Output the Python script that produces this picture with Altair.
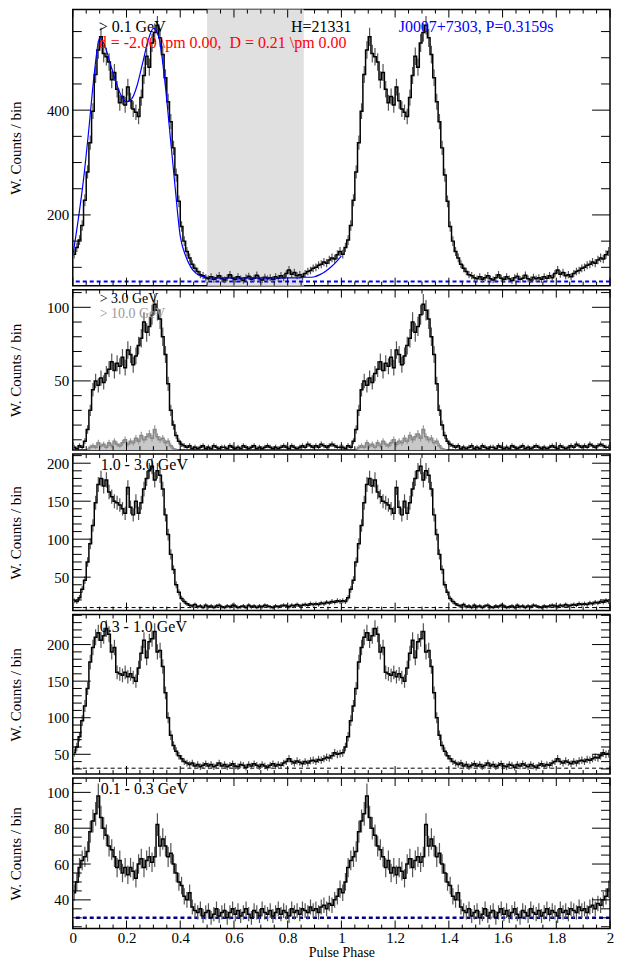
import altair as alt
import pandas as pd

FONT = "Liberation Serif"
N_BINS = 100
bin_centers = [(i + 0.5) / N_BINS for i in range(N_BINS)]

# > 0.1 GeV (one rotation, 100 bins)
counts_01 = [125, 138, 152, 180, 228, 282, 338, 398, 468, 515,
             540, 508, 502, 492, 458, 472, 440, 414, 426, 410,
             444, 418, 402, 396, 388, 424, 466, 503, 482, 528,
             548, 562, 538, 506, 462, 416, 378, 328, 276, 226,
             178, 150, 130, 118, 106, 98, 92, 86, 84, 80,
             78, 82, 77, 80, 84, 78, 76, 80, 86, 79,
             77, 82, 78, 75, 80, 83, 77, 79, 85, 78,
             76, 81, 78, 80, 77, 82, 79, 84, 80, 88,
             95, 87, 90, 84, 86, 82, 88, 92, 94, 98,
             100, 104, 106, 110, 108, 114, 118, 116, 124, 130]

# > 3.0 GeV
counts_3 = [5, 4, 6, 5, 9, 17, 30, 44, 50, 47,
            52, 49, 55, 58, 63, 57, 62, 60, 66, 59,
            71, 68, 61, 67, 74, 79, 90, 83, 87, 95,
            102, 98, 92, 80, 68, 48, 30, 20, 13, 9,
            7, 6, 5, 6, 4, 5, 4, 5, 6, 4,
            5, 4, 6, 5, 4, 5, 5, 4, 6, 5,
            4, 5, 4, 6, 5, 4, 5, 6, 4, 5,
            4, 5, 6, 5, 4, 5, 4, 5, 6, 5,
            4, 6, 5, 4, 5, 6, 5, 7, 6, 5,
            6, 5, 7, 6, 5, 6, 7, 6, 5, 5]

# > 10.0 GeV
counts_10 = [1, 0.5, 1, 1, 2, 3, 5, 6, 5, 8,
             6, 7, 5, 8, 6, 9, 7, 6, 8, 10,
             7, 9, 8, 11, 9, 13, 10, 12, 14, 11,
             17, 12, 10, 11, 8, 9, 6, 4, 3, 1,
             1, 0.5, 1, 1, 0.5, 1, 1, 0.5, 1, 1,
             0.5, 1, 1, 0.5, 1, 1, 0.5, 1, 1, 0.5,
             1, 1, 0.5, 1, 1, 0.5, 1, 1, 0.5, 1,
             1, 0.5, 1, 1, 0.5, 1, 1, 0.5, 1, 1,
             0.5, 1, 1, 0.5, 1, 1, 0.5, 1, 1, 0.5,
             1, 1, 0.5, 1, 1, 0.5, 1, 1, 0.5, 1]

# 1.0 - 3.0 GeV
counts_1_3 = [19, 18, 23, 34, 46, 70, 94, 118, 148, 172,
              180, 170, 178, 162, 156, 150, 148, 145, 140, 134,
              168, 142, 132, 150, 134, 148, 166, 180, 190, 196,
              178, 190, 184, 166, 132, 106, 80, 60, 40, 30,
              22, 18, 15, 13, 12, 14, 11, 12, 10, 13,
              11, 12, 10, 12, 13, 11, 10, 12, 11, 13,
              12, 10, 11, 12, 10, 13, 11, 12, 10, 12,
              11, 13, 12, 11, 10, 12, 11, 12, 13, 12,
              11, 13, 12, 14, 12, 13, 14, 13, 15, 14,
              15, 14, 16, 15, 17, 16, 18, 17, 19, 18]

# 0.3 - 1.0 GeV
counts_03_1 = [52, 60, 74, 96, 116, 140, 176, 196, 210, 216,
               206, 212, 222, 214, 190, 196, 162, 160, 158, 162,
               156, 160, 155, 150, 168, 188, 206, 182, 204, 208,
               218, 190, 192, 170, 134, 100, 76, 62, 54, 48,
               44, 40, 38, 36, 38, 34, 36, 33, 35, 37,
               34, 36, 33, 35, 38, 34, 36, 33, 35, 37,
               34, 33, 36, 35, 32, 36, 34, 37, 35, 33,
               36, 34, 32, 35, 37, 34, 36, 35, 38, 40,
               44, 40, 38, 41, 39, 37, 40, 38, 41, 42,
               40, 43, 42, 44, 46, 45, 48, 52, 50, 51]

# 0.1 - 0.3 GeV
counts_01_03 = [44, 50, 58, 62, 64, 67, 78, 84, 88, 98,
                86, 80, 76, 70, 68, 64, 58, 62, 55, 58,
                54, 58, 56, 52, 60, 63, 58, 62, 64, 61,
                64, 82, 70, 74, 70, 64, 66, 60, 55, 50,
                48, 42, 40, 44, 36, 34, 33, 35, 31, 33,
                34, 30, 32, 35, 31, 33, 34, 30, 33, 35,
                32, 34, 31, 33, 35, 32, 30, 34, 33, 31,
                35, 33, 32, 34, 31, 33, 35, 32, 34, 33,
                31, 35, 33, 34, 32, 35, 34, 33, 36, 34,
                35, 33, 36, 37, 35, 38, 37, 40, 42, 46]

# fitted template (> 0.1 GeV), first rotation only
fit_phase = [round(0.02 * i, 2) for i in range(51)]
fit_vals = [122, 190, 268, 365, 470, 538, 522, 488, 455, 428,
            416, 422, 448, 490, 532, 556, 540, 468, 365, 258,
            160, 122, 100, 88, 83, 81, 80, 80, 80, 80,
            80, 80, 80, 80, 80, 80, 80, 80, 80, 80,
            80, 80, 80, 81, 81, 82, 86, 92, 100, 110, 122]

off_pulse = [0.5, 0.86]

W = 539
xs = alt.Scale(domain=[0, 2], nice=False, zero=False)
x_major = [round(0.2 * i, 1) for i in range(11)]
x_minor = [round(0.05 * i, 2) for i in range(41) if i % 4 != 0]
NB = "\u00a0"


def two_cycles(vals):
    return pd.DataFrame({
        "phase": [c + k for k in (0, 1) for c in bin_centers],
        "v": [v for k in (0, 1) for v in vals],
    })


def ticks(h, ys, yax, xax, y_major, y_minor):
    out = []
    for vals, L in ((x_major, 8), (x_minor, 4)):
        d = pd.DataFrame({"t": vals})
        out.append(alt.Chart(d).mark_rule(color="black", strokeWidth=1).encode(
            x=alt.X("t:Q", scale=xs, axis=xax), y=alt.value(0), y2=alt.value(L)))
        out.append(alt.Chart(d).mark_rule(color="black", strokeWidth=1).encode(
            x=alt.X("t:Q", scale=xs, axis=xax), y=alt.value(h - L), y2=alt.value(h)))
    for vals, L in ((y_major, 18), (y_minor, 9)):
        d = pd.DataFrame({"t": vals})
        out.append(alt.Chart(d).mark_rule(color="black", strokeWidth=1).encode(
            y=alt.Y("t:Q", scale=ys, axis=yax), x=alt.value(0), x2=alt.value(L)))
        out.append(alt.Chart(d).mark_rule(color="black", strokeWidth=1).encode(
            y=alt.Y("t:Q", scale=ys, axis=yax), x=alt.value(W - L), x2=alt.value(W)))
    return out


def hist(vals, ys, yax, xax, k, color="black", err_color="#555555", area=False):
    d = two_cycles(vals)
    base = alt.Chart(d)
    out = []
    if area:
        out.append(base.mark_area(interpolate="step", color="#c8c8c8", clip=True).encode(
            x=alt.X("phase:Q", scale=xs, axis=xax), y=alt.Y("v:Q", scale=ys, axis=yax)))
    out.append(base.transform_calculate(
        lo=f"datum.v - {k}*sqrt(datum.v)", hi=f"datum.v + {k}*sqrt(datum.v)"
    ).mark_rule(color=err_color, strokeWidth=1.2, clip=True).encode(
        x=alt.X("phase:Q", scale=xs, axis=xax),
        y=alt.Y("lo:Q", scale=ys, axis=yax), y2=alt.Y2("hi:Q")))
    out.append(base.mark_line(interpolate="step", color=color, strokeWidth=1.5, clip=True).encode(
        x=alt.X("phase:Q", scale=xs, axis=xax),
        y=alt.Y("v:Q", scale=ys, axis=yax)))
    return out


def label(text, px, py, color="black", size=16):
    return alt.Chart(pd.DataFrame({"s": [text]})).mark_text(
        align="left", baseline="alphabetic", font=FONT, fontSize=size, color=color
    ).encode(x=alt.value(px), y=alt.value(py), text="s:N")


def baseline(val, ys, yax, color, dash, width):
    return alt.Chart(pd.DataFrame({"b": [val]})).mark_rule(
        color=color, strokeDash=dash, strokeWidth=width).encode(
        y=alt.Y("b:Q", scale=ys, axis=yax))


def yaxis(vals):
    return alt.Axis(values=vals, ticks=False, domain=False, grid=False, labelFont=FONT,
                    labelFontSize=15, labelColor="black", labelPadding=4,
                    title="W. Counts / bin", titleFont=FONT, titleFontSize=15,
                    titleFontWeight="normal", titleColor="black", titlePadding=9,
                    minExtent=40, maxExtent=40)


def panel(layers, h):
    return alt.layer(*layers).properties(width=W, height=h)


# Panel 1
h1 = 277
ys1 = alt.Scale(domain=[65, 592], nice=False, zero=False)
ya1 = yaxis([200, 400])
rect = alt.Chart(pd.DataFrame({"a": [off_pulse[0]], "b": [off_pulse[1]]})).mark_rect(
    color="#e0e0e0").encode(x=alt.X("a:Q", scale=xs, axis=None), x2="b:Q",
                            y=alt.value(0), y2=alt.value(h1))
fit = alt.Chart(pd.DataFrame({"phase": fit_phase, "f": fit_vals})).mark_line(
    color="blue", strokeWidth=1.2, interpolate="monotone", clip=True).encode(
    x=alt.X("phase:Q", scale=xs, axis=None), y=alt.Y("f:Q", scale=ys1, axis=ya1))
p1 = panel(
    [rect, baseline(73, ys1, ya1, "blue", [4, 3], 2)]
    + hist(counts_01, ys1, ya1, None, 0.75)
    + [fit,
       label("> 0.1 GeV", 26, 23),
       label("H=21331", 219, 23),
       label("J0007+7303, P=0.3159s", 327, 23, color="blue"),
       label("d = -2.00 \\pm 0.00," + NB + NB + "D = 0.21 \\pm 0.00", 26, 39, color="red")]
    + ticks(h1, ys1, ya1, None, [200, 400], [v for v in range(100, 600, 50) if v % 200 != 0]),
    h1)

# Panel 2
h2 = 161
ys2 = alt.Scale(domain=[3, 112], nice=False, zero=False)
ya2 = yaxis([50, 100])
p2 = panel(
    hist(counts_10, ys2, ya2, None, 0.7, color="#888888", err_color="#999999", area=True)
    + hist(counts_3, ys2, ya2, None, 0.7)
    + [label("> 3.0 GeV", 27, 13, size=14),
       label("> 10.0 GeV", 27, 28, color="#999999", size=14)]
    + ticks(h2, ys2, ya2, None, [50, 100], [v for v in range(10, 111, 10) if v % 50 != 0]),
    h2)

# Panel 3
h3 = 157
ys3 = alt.Scale(domain=[6, 212], nice=False, zero=False)
ya3 = yaxis([50, 100, 150, 200])
p3 = panel(
    [baseline(10, ys3, ya3, "black", [4, 3], 1)]
    + hist(counts_1_3, ys3, ya3, None, 0.75)
    + [label("1.0 - 3.0 GeV", 28, 16)]
    + ticks(h3, ys3, ya3, None, [50, 100, 150, 200], [v for v in range(10, 211, 10) if v % 50 != 0]),
    h3)

# Panel 4
h4 = 160
ys4 = alt.Scale(domain=[23, 241], nice=False, zero=False)
ya4 = yaxis([50, 100, 150, 200])
p4 = panel(
    [baseline(31, ys4, ya4, "black", [4, 3], 1)]
    + hist(counts_03_1, ys4, ya4, None, 0.75)
    + [label("0.3 - 1.0 GeV", 27, 17)]
    + ticks(h4, ys4, ya4, None, [50, 100, 150, 200], [v for v in range(30, 241, 10) if v % 50 != 0]),
    h4)

# Panel 5
h5 = 151
ys5 = alt.Scale(domain=[24, 108], nice=False, zero=False)
ya5 = yaxis([40, 60, 80, 100])
xa5 = alt.Axis(values=x_major, format="~g", ticks=False, domain=False, grid=False,
               labelFlush=False, labelFont=FONT, labelFontSize=15, labelColor="black",
               labelPadding=2, title="Pulse Phase", titleFont=FONT, titleFontSize=14,
               titleFontWeight="normal", titleColor="black", titlePadding=0)
p5 = panel(
    [baseline(30, ys5, ya5, "#000080", [4, 3], 2.5)]
    + hist(counts_01_03, ys5, ya5, xa5, 0.7)
    + [label("0.1 - 0.3 GeV", 28, 16)]
    + ticks(h5, ys5, ya5, xa5, [40, 60, 80, 100], [v for v in range(25, 108, 5) if v % 20 != 0]),
    h5)

chart = alt.vconcat(p1, p2, p3, p4, p5, spacing=0).properties(
    padding={"top": -2, "bottom": 0, "left": 0, "right": 0}, background="white"
).configure_view(stroke="black", strokeWidth=1.5)

chart.save("out.html", embed_options={"renderer": "svg", "actions": False})
